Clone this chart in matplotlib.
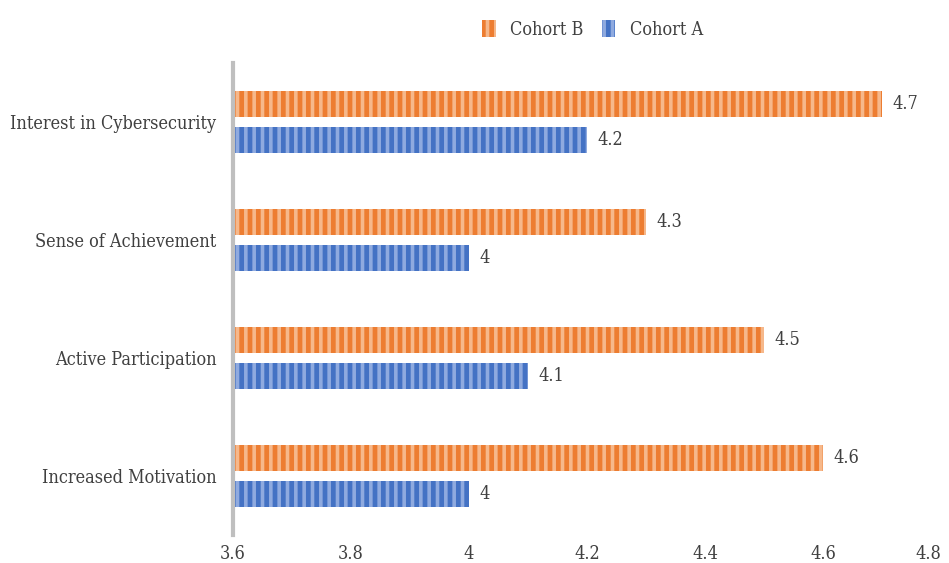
import numpy as np
import matplotlib.pyplot as plt
from matplotlib.patches import Patch

categories = ["Interest in Cybersecurity", "Sense of Achievement",
              "Active Participation", "Increased Motivation"]
cohort_a = [4.2, 4.0, 4.1, 4.0]
cohort_b = [4.7, 4.3, 4.5, 4.6]
xticks = [3.6, 3.8, 4.0, 4.2, 4.4, 4.6, 4.8]

plt.rcParams['font.family'] = ['DejaVu Serif', 'Liberation Serif']
plt.rcParams['font.stretch'] = 'condensed'
plt.rcParams['hatch.linewidth'] = 2.6
text_color = '#404040'

fig = plt.figure(figsize=(9.49, 5.63), dpi=100)
ax = fig.add_axes([0.2455, 0.0497, 0.746, 0.8384])

y = np.arange(len(categories))
h = 0.22
off = 0.153
left = 3.6

orange, orange_lt = '#ED7D31', '#F6B88B'
blue, blue_lt = '#4472C4', '#8FAADF'

ax.barh(y - off, np.array(cohort_b) - left, left=left, height=h,
        color=orange, edgecolor=orange_lt, hatch='||', linewidth=0)
ax.barh(y + off, np.array(cohort_a) - left, left=left, height=h,
        color=blue, edgecolor=blue_lt, hatch='||', linewidth=0)

# value labels just past the bar ends
for yi, v in zip(y - off, cohort_b):
    ax.text(v + 0.017, yi, f"{v:g}", va='center', ha='left', fontsize=13, color=text_color)
for yi, v in zip(y + off, cohort_a):
    ax.text(v + 0.017, yi, f"{v:g}", va='center', ha='left', fontsize=13, color=text_color)

ax.set_xlim(3.6, 4.8)
ax.set_ylim(len(categories) - 0.5, -0.5)
ax.set_xticks(xticks)
labels = ax.set_xticklabels([f"{t:g}" for t in xticks], fontsize=13, color=text_color)
labels[-1].set_horizontalalignment('right')
ax.set_yticks(y)
ax.set_yticklabels(categories, fontsize=13, color=text_color)
ax.tick_params(axis='both', length=0)
ax.tick_params(axis='x', pad=7)
ax.tick_params(axis='y', pad=12)

for s in ['top', 'right', 'bottom']:
    ax.spines[s].set_visible(False)
ax.spines['left'].set_color('#BFBFBF')
ax.spines['left'].set_linewidth(3)

handles = [Patch(facecolor=orange, edgecolor=orange_lt, hatch='||', linewidth=0, label='Cohort B'),
           Patch(facecolor=blue, edgecolor=blue_lt, hatch='||', linewidth=0, label='Cohort A')]
fig.legend(handles=handles, loc='center', bbox_to_anchor=(0.6245, 0.948), ncol=2,
           frameon=False, fontsize=13, handlelength=0.75, handleheight=1.1,
           columnspacing=1.0, handletextpad=0.8, labelcolor=text_color)

fig.savefig('out.png', dpi=100)
